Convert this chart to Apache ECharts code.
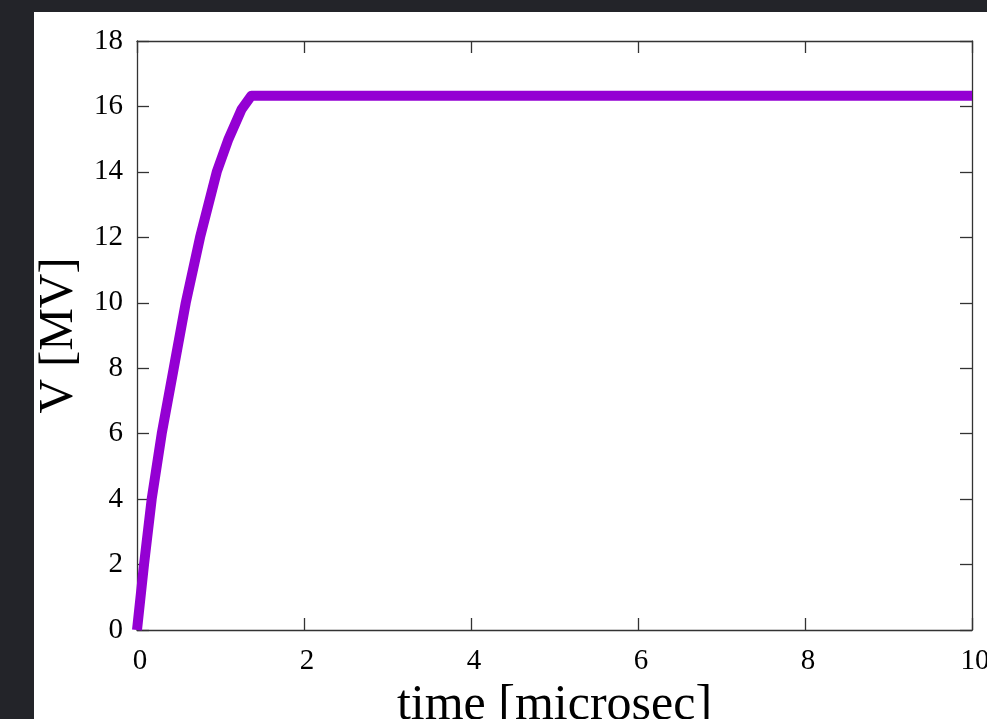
<!DOCTYPE html>
<html><head><meta charset="utf-8">
<script src="https://cdn.jsdelivr.net/npm/echarts@6/dist/echarts.min.js"></script>
<style>html,body{margin:0;padding:0;background:#232429;overflow:hidden;}#c{width:987px;height:719px;}</style>
</head><body><div id="c"></div>
<script>
const timeValues = [0, 0.084, 0.176, 0.296, 0.44, 0.584, 0.755, 0.955, 1.095, 1.25, 1.37, 10];
const voltageValues = [0, 2, 4, 6, 8, 10, 12, 14, 15, 15.9, 16.33, 16.33];
const xTicks = [0, 2, 4, 6, 8, 10];
const yTicks = [0, 2, 4, 6, 8, 10, 12, 14, 16, 18];
const xTitle = 'time [microsec]';
const yTitle = 'V [MV]';

const data = timeValues.map((t, i) => [t, voltageValues[i]]);
const font = '"Liberation Serif", "DejaVu Serif", serif';
const frame = { lineStyle: { color: '#333', width: 1.3 } };
const tick = { show: true, inside: true, length: 12, lineStyle: { color: '#333', width: 1.3 } };

const chart = echarts.init(document.getElementById('c'), null, { renderer: 'canvas' });
chart.setOption({
  backgroundColor: '#232429',
  animation: false,
  graphic: [{ type: 'rect', shape: { x: 34, y: 12, width: 1000, height: 800 }, style: { fill: '#ffffff' }, z: -10 }],
  grid: { left: 137, top: 41, right: 15, bottom: 89, containLabel: false, outerBoundsMode: 'none' },
  xAxis: [
    { type: 'value', min: 0, max: 10, interval: 2, position: 'bottom',
      name: xTitle, nameLocation: 'middle', nameGap: 43,
      nameTextStyle: { fontFamily: font, fontSize: 50, color: '#000', verticalAlign: 'top', lineHeight: 50 },
      axisLine: Object.assign({ show: true, onZero: false }, frame), axisTick: tick,
      axisLabel: { fontFamily: font, fontSize: 29, color: '#000', margin: 17, padding: [0, 0, 0, 6],
        formatter: v => xTicks.includes(v) ? String(v) : '' },
      splitLine: { show: false } },
    { type: 'value', min: 0, max: 10, interval: 2, position: 'top',
      axisLine: Object.assign({ show: true, onZero: false }, frame), axisTick: tick,
      axisLabel: { show: false }, splitLine: { show: false } }
  ],
  yAxis: [
    { type: 'value', min: 0, max: 18, interval: 2, position: 'left',
      name: yTitle, nameLocation: 'middle', nameGap: 45, nameRotate: 90,
      nameTextStyle: { fontFamily: font, fontSize: 48, color: '#000', lineHeight: 48 },
      axisLine: Object.assign({ show: true, onZero: false }, frame), axisTick: tick,
      axisLabel: { fontFamily: font, fontSize: 29, color: '#000', margin: 14,
        formatter: v => yTicks.includes(v) ? String(v) : '' },
      splitLine: { show: false } },
    { type: 'value', min: 0, max: 18, interval: 2, position: 'right',
      axisLine: Object.assign({ show: true, onZero: false }, frame), axisTick: tick,
      axisLabel: { show: false }, splitLine: { show: false } }
  ],
  series: [{
    type: 'line', data: data, xAxisIndex: 0, yAxisIndex: 0,
    showSymbol: false, smooth: false, clip: false,
    lineStyle: { color: '#9400D3', width: 10, cap: 'butt', join: 'round' }
  }]
});
</script></body></html>
